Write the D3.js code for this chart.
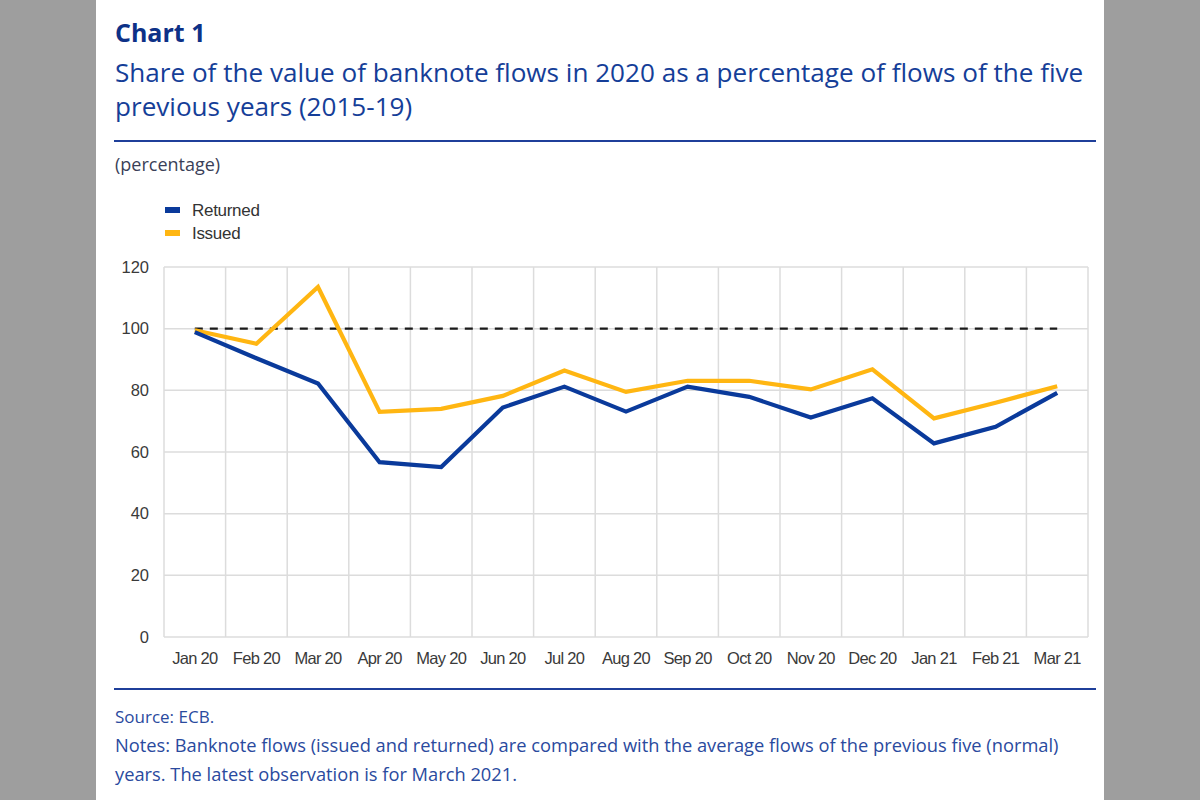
<!DOCTYPE html>
<html><head><meta charset="utf-8">
<script src="https://cdn.jsdelivr.net/npm/d3@7"></script>
<style>
html,body{margin:0;padding:0;background:#9e9e9e;}
svg{display:block;}
</style></head>
<body>
<svg id="c" width="1200" height="800"></svg>
<script>
const categories = ["Jan 20","Feb 20","Mar 20","Apr 20","May 20","Jun 20","Jul 20","Aug 20","Sep 20","Oct 20","Nov 20","Dec 20","Jan 21","Feb 21","Mar 21"];
const returned = [98.9, 90.4, 82.2, 56.7, 55.1, 74.4, 81.2, 73.1, 81.2, 77.9, 71.2, 77.4, 62.8, 68.2, 79.2];
const issued   = [99.5, 95.1, 113.5, 73.0, 74.0, 78.2, 86.4, 79.5, 83.1, 83.1, 80.3, 86.8, 70.9, 76.0, 81.3];
const reference = 100;
const yTicks = [0, 20, 40, 60, 80, 100, 120];
const seriesNames = ["Returned", "Issued"];
const seriesColors = ["#0a3a9b", "#ffb612"];

const svg = d3.select("#c");
svg.append("rect").attr("x",96).attr("y",0).attr("width",1008).attr("height",800).attr("fill","#ffffff");

svg.append("text").attr("x",115).attr("y",42).attr("font-family","Open Sans").attr("font-weight",700)
  .attr("font-size",25).attr("fill","#0d3187").text("Chart 1");
svg.append("text").attr("x",115).attr("y",82).attr("font-family","Open Sans")
  .attr("font-size",26.1).attr("fill","#153e98").text("Share of the value of banknote flows in 2020 as a percentage of flows of the five");
svg.append("text").attr("x",115).attr("y",116).attr("font-family","Open Sans")
  .attr("font-size",26.1).attr("fill","#153e98").text("previous years (2015-19)");
svg.append("line").attr("x1",114).attr("x2",1096).attr("y1",141).attr("y2",141).attr("stroke","#1f3f9a").attr("stroke-width",2);
svg.append("text").attr("x",115).attr("y",171).attr("font-family","Open Sans")
  .attr("font-size",18).attr("fill","#3a3f58").text("(percentage)");

const m = {left:164, right:1088, top:267, bottom:637};
const x = d3.scaleBand().domain(categories).range([m.left, m.right]);
const y = d3.scaleLinear().domain([0,120]).range([m.bottom, m.top]);

const g = svg.append("g");
const grid = "#dcdcdc";
g.selectAll(".hg").data(yTicks).join("line")
  .attr("x1",m.left).attr("x2",m.right).attr("y1",d=>y(d)).attr("y2",d=>y(d))
  .attr("stroke",grid).attr("stroke-width",1.5);
const edges = categories.map(c=>x(c)).concat([m.right]);
g.selectAll(".vg").data(edges).join("line")
  .attr("x1",d=>d).attr("x2",d=>d).attr("y1",m.top).attr("y2",m.bottom)
  .attr("stroke",grid).attr("stroke-width",1.5);

const yAxis = d3.axisLeft(y).tickValues(yTicks).tickSize(0).tickPadding(15);
const ya = g.append("g").attr("transform",`translate(${m.left},0)`).call(yAxis);
ya.select(".domain").remove();
ya.selectAll("text").attr("font-family","Liberation Sans, Arial").attr("font-size",16.5).attr("fill","#3a3a3a");

const xAxis = d3.axisBottom(x).tickSize(0).tickPadding(15);
const xa = g.append("g").attr("transform",`translate(0,${m.bottom})`).call(xAxis);
xa.select(".domain").remove();
xa.selectAll("text").attr("font-family","Liberation Sans, Arial").attr("font-size",16.5).attr("fill","#3a3a3a")
  .attr("letter-spacing","-0.7px");

const cx = c => x(c) + x.bandwidth()/2;
g.append("line").attr("x1",cx(categories[0])).attr("x2",cx(categories[categories.length-1]))
  .attr("y1",y(reference)).attr("y2",y(reference))
  .attr("stroke","#1a1a1a").attr("stroke-width",2.2).attr("stroke-dasharray","8,7");

const line = d3.line().x((d,i)=>cx(categories[i])).y(d=>y(d));
[issued, returned].forEach((s,k)=>{
  const col = k===0 ? seriesColors[1] : seriesColors[0];
  g.append("path").datum(s).attr("d",line).attr("fill","none")
    .attr("stroke",col).attr("stroke-width",4.2).attr("stroke-linejoin","miter");
});

seriesNames.forEach((n,i)=>{
  const ly = 210 + i*23;
  svg.append("rect").attr("x",165).attr("y",ly-3).attr("width",15).attr("height",6).attr("fill",seriesColors[i]);
  svg.append("text").attr("x",192).attr("y",ly+6).attr("font-family","Liberation Sans, Arial")
    .attr("font-size",17).attr("fill","#333").attr("letter-spacing","-0.3px").text(n);
});

svg.append("line").attr("x1",114).attr("x2",1096).attr("y1",689).attr("y2",689).attr("stroke","#1f3f9a").attr("stroke-width",2);
const noteCol = "#2a4a9e";
svg.append("text").attr("x",115).attr("y",723).attr("font-family","Open Sans").attr("font-size",17).attr("fill",noteCol).text("Source: ECB.");
svg.append("text").attr("x",115).attr("y",752).attr("font-family","Open Sans").attr("font-size",18.3).attr("fill",noteCol)
  .text("Notes: Banknote flows (issued and returned) are compared with the average flows of the previous five (normal)");
svg.append("text").attr("x",115).attr("y",781).attr("font-family","Open Sans").attr("font-size",18.3).attr("fill",noteCol)
  .text("years. The latest observation is for March 2021.");
</script>
</body></html>
